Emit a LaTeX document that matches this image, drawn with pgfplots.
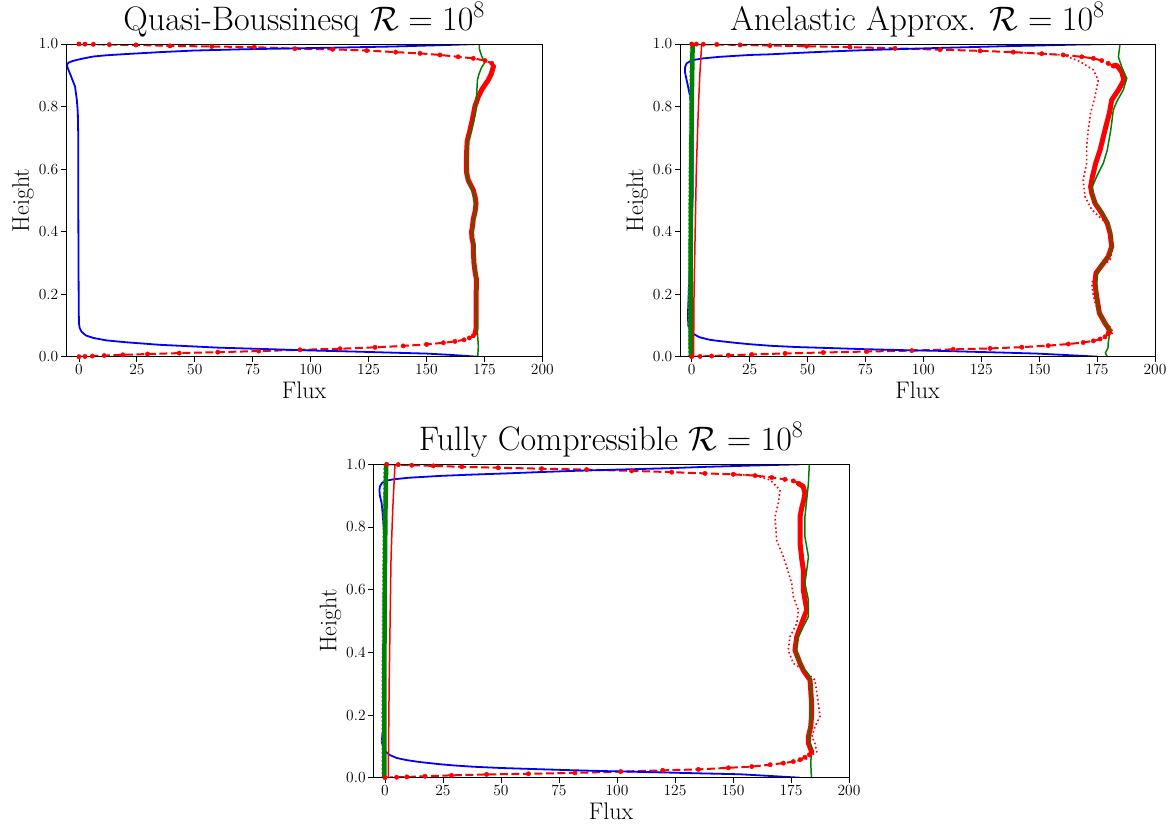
\RequirePackage{fix-cm}
\documentclass[border=0pt]{standalone}
\usepackage{pgfplots}
\pgfplotsset{compat=1.18}
\definecolor{mblue}{RGB}{0,0,255}
\definecolor{mred}{RGB}{255,0,0}
\definecolor{mgreen}{RGB}{0,128,0}
\pgfplotsset{
 fluxax/.style={
  scale only axis, axis on top,
  xmax=200, ymin=0, ymax=1,
  xtick={0,25,50,75,100,125,150,175,200},
  ytick={0,0.2,0.4,0.6,0.8,1},
  yticklabel style={/pgf/number format/.cd, fixed, fixed zerofill, precision=1},
  tick pos=left, tick align=outside, major tick length=5pt,
  every tick/.style={black, line width=0.8pt},
  axis line style={black, line width=0.8pt},
  tick label style={font=\fontsize{15.5}{18}\selectfont, inner sep=2.5pt},
  xlabel=Flux, ylabel=Height,
  label style={font=\fontsize{24}{28}\selectfont, inner sep=0pt},
  xlabel style={at={(axis description cs:0.5,0)}, anchor=base, yshift=-41.5pt},
  ylabel style={at={(axis description cs:-0.0778,0.5)}, anchor=base},
  title style={at={(axis description cs:0.5,1)}, anchor=base, yshift=8pt, inner sep=0pt, font=\fontsize{34}{40}\selectfont},
  anchor=south west,
 },
 bl/.style={mred, dash pattern=on 8pt off 3.5pt, line width=2pt, mark=*, mark size=2.2pt, mark options={solid, fill=mred, draw=mred, line width=0.4pt}},
 thickred/.style={mred, line width=5pt, line join=round, line cap=round},
 reddot/.style={mred, line width=1.6pt, dash pattern=on 1.6pt off 2.6pt},
 bluel/.style={mblue, line width=1.8pt},
 greenl/.style={mgreen, line width=1.5pt},
 thickgreen/.style={mgreen, line width=4.5pt},
 greendot/.style={mgreen!60!white, line width=1.5pt, dash pattern=on 1.5pt off 2.5pt},
 redthin/.style={mred, line width=1.5pt},
}
\begin{document}
\begin{tikzpicture}
\useasboundingbox (0pt,0pt) rectangle (1173pt,-830pt);

% ---------------- Quasi-Boussinesq ----------------
\begin{axis}[fluxax, at={(66pt,-356.7pt)}, width=476.3pt, height=312.7pt, xmin=-5.6,
  title={Quasi-Boussinesq $\mathcal{R} = 10^8$}]
\addplot[bl] coordinates {(0,0) (2.6,0.0008) (5.8,0.002) (10.9,0.0035) (18.9,0.006) (29.6,0.0085) (43.3,0.0115) (59.9,0.0145) (77.6,0.018) (95.4,0.022) (112.7,0.0255) (127.8,0.03) (140,0.0345) (150.1,0.0395) (157.3,0.0445) (162.3,0.049) (166.2,0.054) (168.5,0.06) (170.2,0.067) (171,0.075)};
\addplot[bl] coordinates {(178.9,0.928) (178.2,0.938) (175.3,0.947) (170.2,0.954) (163.7,0.959) (155.8,0.965) (147.2,0.970) (136.7,0.974) (124.2,0.979) (109.5,0.983) (93.2,0.985) (75.7,0.990) (57.3,0.992) (39.3,0.994) (24.6,0.997) (13.1,0.998) (6.2,0.999) (2.6,0.9996) (0,1.0)};
\addplot[thickred] coordinates {(171,0.075) (171.4,0.09) (171.4,0.14) (171.4,0.19) (171.6,0.246) (171,0.27) (170.5,0.30) (170.3,0.33) (170.2,0.36) (169.6,0.38) (169.5,0.40) (169.9,0.42) (170.2,0.44) (171,0.465) (171.4,0.49) (171,0.51) (170.2,0.533) (169,0.55) (168,0.565) (167.3,0.59) (167.2,0.62) (167.3,0.65) (167.6,0.69) (168.8,0.725) (170,0.765) (170.9,0.80) (172.4,0.832) (173.8,0.853) (175.3,0.87) (176.7,0.885) (178,0.905) (178.9,0.928)};
\addplot[bluel] coordinates {(172,0) (160,0.006) (150,0.01) (135,0.013) (121,0.016) (100,0.02) (78,0.025) (60,0.029) (49,0.033) (35,0.038) (20.6,0.046) (12,0.052) (6.2,0.06) (3,0.068) (1.1,0.08) (0.3,0.092) (0,0.107) (-0.1,0.15) (-0.2,0.3) (-0.3,0.5) (-0.3,0.7) (-0.5,0.78) (-0.9,0.82) (-1.7,0.864) (-2.8,0.885) (-3.9,0.906) (-4.8,0.922) (-5.2,0.932) (-4.6,0.94) (-3,0.945) (-1,0.949) (2,0.954) (6.2,0.96) (12,0.964) (20.6,0.968) (35,0.974) (49.3,0.979) (70,0.983) (92.5,0.986) (115,0.989) (135.7,0.992) (155,0.996) (172.4,1.0)};
\addplot[greenl] coordinates {(172.1,0) (172.4,0.033) (172,0.076) (171.6,0.13) (171.5,0.193) (171.7,0.246) (171,0.275) (170.6,0.299) (170.6,0.352) (169.9,0.375) (169.8,0.395) (170,0.427) (171,0.46) (171.4,0.48) (170.9,0.512) (169.5,0.535) (168.6,0.555) (167.5,0.58) (167.3,0.60) (167.3,0.64) (168,0.693) (169.2,0.72) (170.2,0.746) (171.3,0.79) (171.6,0.832) (172,0.885) (172.7,0.905) (173.8,0.925) (175.1,0.94) (173.8,0.962) (172.8,0.985) (172.9,1.0)};
\end{axis}

% ---------------- Anelastic ----------------
\begin{axis}[fluxax, at={(680pt,-356.7pt)}, width=475pt, height=312.7pt, xmin=-5.05,
  title={Anelastic Approx. $\mathcal{R} = 10^8$}]
\addplot[reddot] coordinates {(176.3,0.0565) (179.8,0.068) (182,0.076) (180.6,0.095) (178.4,0.107) (175.5,0.139) (173.4,0.193) (172.7,0.235) (175.5,0.278) (180.6,0.31) (182,0.352) (180.8,0.39) (178.5,0.43) (172.7,0.47) (169.8,0.512) (169,0.565) (170.5,0.619) (170.5,0.672) (171.2,0.725) (172.2,0.779) (174.1,0.832) (175.5,0.885) (173.4,0.917) (167.6,0.944) (160.4,0.965) (151.1,0.969) (138.8,0.974)};
\addplot[bl] coordinates {(0,0) (3.6,0.001) (8.6,0.002) (15.8,0.0045) (25.9,0.007) (40.3,0.0105) (56.8,0.0135) (75.5,0.0165) (95,0.0195) (112.9,0.0235) (128.8,0.0265) (142.5,0.0305) (153.9,0.0355) (162.6,0.0405) (169,0.0455) (173.4,0.0505) (176.3,0.0565) (178.4,0.0635) (179.8,0.0745)};
\addplot[bl] coordinates {(182,0.93) (179.8,0.938) (177,0.947) (173.4,0.954) (168.4,0.959) (160.4,0.965) (151.1,0.969) (138.8,0.974) (124.5,0.978) (107.2,0.982) (87.8,0.986) (68.3,0.99) (49.6,0.993) (33.8,0.995) (20.9,0.997) (10.8,0.9985) (5,0.9993) (2,0.9997) (0,1.0)};
\addplot[thickred] coordinates {(179.8,0.0745) (180.6,0.081) (179.5,0.095) (178.4,0.107) (176,0.139) (174.8,0.193) (174.1,0.235) (174.5,0.267) (177.7,0.299) (179.8,0.32) (181.3,0.352) (180.6,0.395) (179.4,0.427) (177,0.459) (174.1,0.491) (172.7,0.523) (172.2,0.544) (173,0.576) (174.4,0.619) (176.3,0.661) (178.4,0.725) (180.3,0.779) (181.3,0.821) (184.2,0.853) (186.6,0.885) (185.6,0.911) (183.5,0.932) (182,0.93)};
\addplot[bluel] coordinates {(175.5,0) (160,0.006) (148.9,0.01) (135,0.013) (120.1,0.016) (105,0.019) (91.3,0.021) (75,0.024) (62.6,0.027) (45,0.031) (33.8,0.035) (25,0.04) (19.4,0.044) (12,0.05) (7.9,0.054) (3.5,0.062) (1.4,0.07) (0,0.078) (-0.7,0.086) (-1.5,0.1) (-1.6,0.14) (-1.2,0.22) (-0.7,0.3) (0,0.4) (0.4,0.512) (0.4,0.725) (0,0.79) (-0.7,0.832) (-1.6,0.865) (-2.2,0.885) (-2.9,0.91) (-2.9,0.925) (-2.2,0.938) (-0.5,0.946) (0.7,0.949) (5,0.954) (12,0.959) (25.2,0.965) (33.8,0.967) (50,0.973) (62.6,0.977) (77,0.981) (91.3,0.984) (105,0.987) (120.1,0.99) (135,0.993) (148.9,0.995) (165,0.998) (181.3,1.0)};
\addplot[greendot] coordinates {(-1.3,0) (-1.4,0.2) (-1.2,0.5) (-0.8,0.8) (-0.5,1.0)};
\addplot[thickgreen] coordinates {(-0.4,0) (-0.5,0.2) (-0.4,0.4) (-0.2,0.6) (0,0.8) (0.3,0.95) (0.4,1.0)};
\addplot[redthin] coordinates {(0.8,0) (1.0,0.2) (1.5,0.4) (2.0,0.6) (2.9,0.8) (3.5,0.9) (4.3,1.0)};
\addplot[greenl] coordinates {(179.4,0) (178.6,0.012) (179.8,0.03) (179.8,0.044) (180.6,0.081) (177.7,0.118) (175.5,0.15) (174.8,0.204) (174.8,0.257) (176.3,0.289) (179.1,0.31) (181.3,0.342) (181.3,0.384) (179.8,0.427) (177,0.464) (173.4,0.502) (172.7,0.539) (174.8,0.576) (177.7,0.619) (179.4,0.661) (180.9,0.725) (182,0.789) (183.5,0.816) (186.3,0.853) (187.8,0.89) (185.6,0.927) (184.2,0.959) (184.9,1.0)};
\end{axis}

% ---------------- Fully Compressible ----------------
\begin{axis}[fluxax, at={(373.3pt,-777.7pt)}, width=475.7pt, height=313.4pt, xmin=-5.04,
  title={Fully Compressible $\mathcal{R} = 10^8$}]
\addplot[reddot] coordinates {(176,0.0515) (181.8,0.06) (186.1,0.083) (185.3,0.11) (184,0.131) (185.3,0.163) (187.5,0.195) (186.8,0.237) (185.3,0.312) (181,0.34) (176,0.365) (173.8,0.407) (174.6,0.45) (177.5,0.493) (178.2,0.535) (176,0.578) (175.3,0.62) (173.1,0.673) (171.7,0.705) (168.8,0.758) (168.1,0.833) (169.5,0.876) (170.3,0.918) (166,0.95) (159.5,0.964) (150.1,0.968)};
\addplot[bl] coordinates {(0,0) (5,0.0015) (9.4,0.0025) (17.2,0.0045) (28.7,0.0075) (43.8,0.0105) (61.8,0.0125) (81.9,0.0155) (101.6,0.0195) (119.7,0.0235) (135.1,0.0265) (148,0.0315) (158.1,0.0355) (166,0.0415) (171.7,0.0465) (176,0.0515) (178.9,0.0575) (181,0.0655) (182.9,0.0735) (183.9,0.083)};
\addplot[bl] coordinates {(178.2,0.939) (176,0.947) (172.4,0.952) (166.7,0.958) (159.5,0.964) (150.1,0.968) (137.9,0.971) (123.6,0.975) (106.3,0.979) (86.9,0.983) (67.5,0.986) (48.8,0.989) (33.1,0.992) (20.8,0.995) (11.5,0.997) (5.7,0.999) (0.7,1.0)};
\addplot[thickred] coordinates {(183.9,0.083) (182.5,0.11) (182.5,0.131) (183.5,0.163) (183.9,0.2) (183.9,0.237) (183.5,0.28) (183.2,0.312) (180.5,0.34) (178.9,0.365) (176.7,0.407) (177.5,0.45) (179.6,0.493) (181.8,0.535) (180.3,0.599) (180.3,0.663) (179.6,0.7) (178.9,0.748) (178.9,0.833) (179.6,0.86) (180.5,0.886) (181,0.907) (180.3,0.929) (178.2,0.939)};
\addplot[bluel] coordinates {(178.9,0) (165,0.006) (153,0.011) (138,0.0135) (124.3,0.016) (110,0.0185) (95.6,0.021) (80,0.024) (66.8,0.027) (50,0.031) (38.1,0.035) (30,0.039) (23.7,0.043) (15,0.05) (9.4,0.056) (5,0.063) (2.2,0.072) (0.5,0.082) (-0.7,0.094) (-1.4,0.115) (-1.2,0.135) (-0.6,0.16) (-0.2,0.2) (0,0.26) (0,0.58) (-0.2,0.72) (-0.5,0.79) (-1,0.84) (-1.4,0.875) (-2.2,0.9) (-2.4,0.918) (-2.2,0.929) (-1.4,0.939) (-0.2,0.947) (3.6,0.952) (10,0.957) (23.7,0.963) (37,0.967) (52.5,0.971) (66,0.975) (81.2,0.979) (95,0.982) (109.9,0.985) (124,0.988) (138.7,0.992) (158,0.996) (178.9,1.0)};
\addplot[greendot] coordinates {(-1.2,0) (-1.3,0.2) (-1.1,0.5) (-0.8,0.8) (-0.4,1.0)};
\addplot[thickgreen] coordinates {(-0.3,0) (-0.3,0.3) (-0.1,0.6) (0.2,0.85) (0.5,1.0)};
\addplot[redthin] coordinates {(1.4,0) (1.8,0.3) (2.2,0.5) (2.6,0.7) (3.3,0.85) (4.3,1.0)};
\addplot[greenl] coordinates {(183.8,0) (183.5,0.051) (184,0.088) (182.5,0.131) (183.5,0.174) (183.9,0.248) (183.2,0.322) (181.5,0.34) (179.6,0.354) (177.2,0.397) (177.5,0.439) (180.3,0.482) (182.5,0.514) (182.5,0.567) (181,0.62) (181.8,0.663) (182.5,0.705) (181,0.769) (181,0.833) (182.5,0.939) (182.9,1.0)};
\end{axis}
\end{tikzpicture}
\end{document}
